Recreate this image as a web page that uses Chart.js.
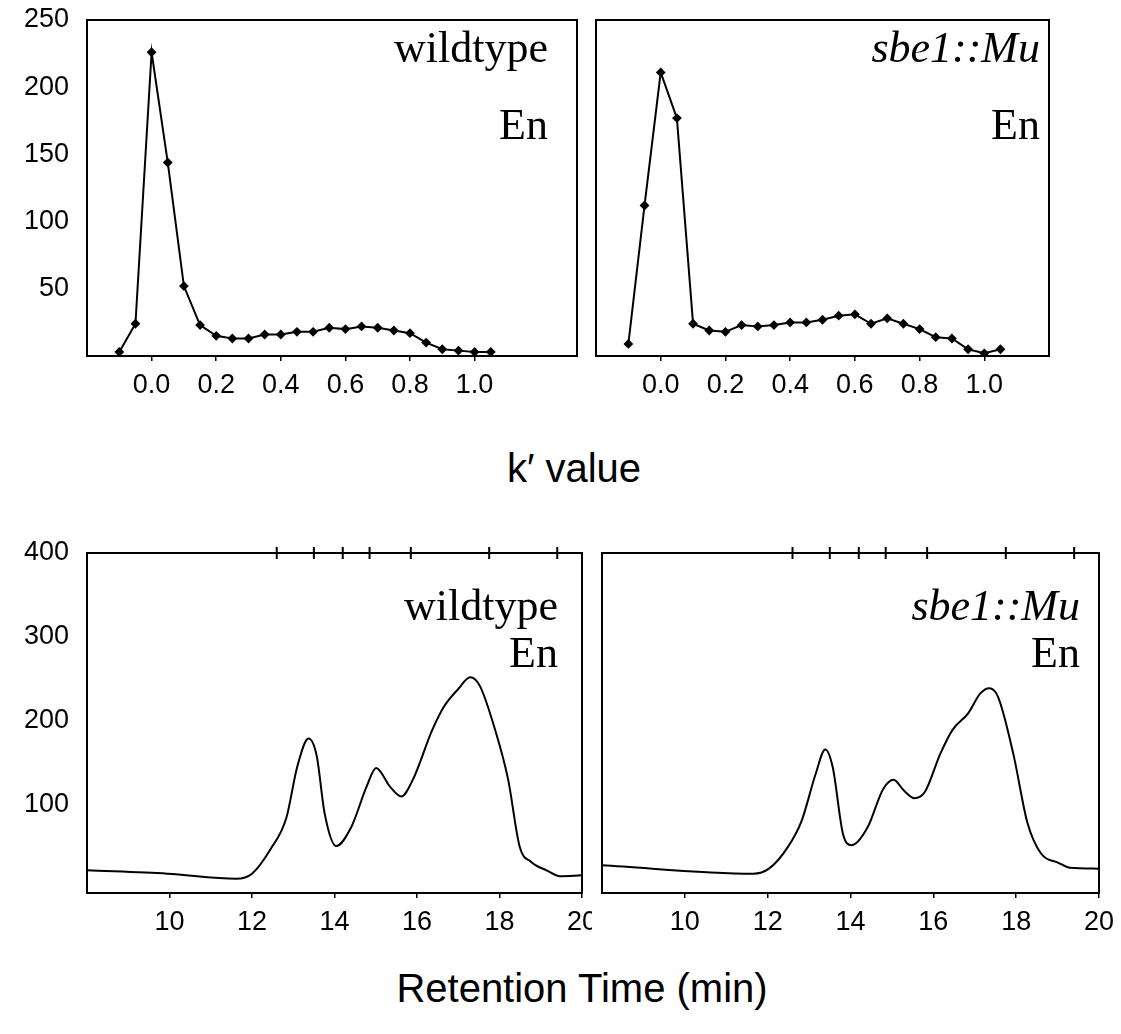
<!DOCTYPE html>
<html>
<head>
<meta charset="utf-8">
<script src="https://cdn.jsdelivr.net/npm/chart.js@4.4.1/dist/chart.umd.min.js"></script>
<style>
  body { margin: 0; background: #fff; }
  #page { position: relative; width: 1121px; height: 1034px; overflow: hidden; }
  canvas { position: absolute; }
  .axis-title {
    position: absolute; font-family: "Liberation Sans", Arial, sans-serif;
    font-size: 40px; color: #000; white-space: nowrap; transform: translate(-50%, -50%);
  }
</style>
</head>
<body>
<div id="page">
  <canvas id="k-wt" width="585" height="410" style="left:0;top:0"></canvas>
  <canvas id="k-mu" width="536" height="410" style="left:585px;top:0"></canvas>
  <canvas id="rt-wt" width="592" height="440" style="left:0;top:520px"></canvas>
  <canvas id="rt-mu" width="529" height="440" style="left:592px;top:520px"></canvas>
  <div class="axis-title" style="left:574px;top:468px">k′ value</div>
  <div class="axis-title" style="left:582px;top:988px">Retention Time (min)</div>
</div>
<script>
// k' 분포 (상단)
const kValues = [-0.1, -0.05, 0.0, 0.05, 0.1, 0.15, 0.2, 0.25, 0.3, 0.35, 0.4, 0.45,
                 0.5, 0.55, 0.6, 0.65, 0.7, 0.75, 0.8, 0.85, 0.9, 0.95, 1.0, 1.05];
const kWildtype = [3, 24, 226, 144, 52, 23, 15, 13, 13, 16, 16, 18,
                   18, 21, 20, 22, 21, 19, 17, 10, 5, 4, 3, 3];
const kMutant = [9, 112, 211, 177, 24, 19, 18, 23, 22, 23, 25, 25,
                 27, 30, 31, 24, 28, 24, 20, 14, 13, 5, 2, 5];
const kTicks = [0.0, 0.2, 0.4, 0.6, 0.8, 1.0];
const kCountTicks = [50, 100, 150, 200, 250];

// 크로마토그램 (하단)
const wtTime = [8.0, 9.95, 11.62, 12.0, 12.46, 12.83, 13.1, 13.37, 13.57, 13.76, 14.04, 14.41, 14.78, 15.01,
                15.34, 15.62, 15.9, 16.36, 16.64, 17.0, 17.29, 17.52, 17.89, 18.21, 18.49, 18.77, 19.14, 19.47, 19.98];
const wtSignal = [22, 18, 12, 18, 48, 84, 146, 179, 158, 90, 51, 74, 122, 144,
                  122, 110, 130, 188, 216, 238, 252, 242, 190, 130, 50, 32, 22, 15, 16];
const muTime = [8.0, 11.65, 12.03, 12.49, 12.82, 13.16, 13.39, 13.57, 13.82, 14.03, 14.41, 14.79, 15.04, 15.29,
                15.54, 15.79, 16.17, 16.46, 16.84, 17.14, 17.35, 17.56, 17.93, 18.27, 18.6, 19.02, 19.3, 19.98];
const muSignal = [28, 18, 24, 50, 81, 137, 166, 145, 65, 52, 73, 119, 130, 117,
                  108, 115, 161, 189, 209, 233, 239, 229, 161, 79, 42, 31, 25, 24];
const standardTimes = [12.6, 13.5, 14.2, 14.85, 15.85, 17.75, 19.4];
const timeTicks = [10, 12, 14, 16, 18, 20];
const signalTicks = [100, 200, 300, 400];

const tickFont = { family: '"Liberation Sans", Arial, sans-serif', size: 27 };

// 플롯 영역 테두리
const framePlugin = {
    id: 'frame',
    afterDraw(chart) {
        const { ctx, chartArea: a } = chart;
        ctx.save();
        ctx.strokeStyle = '#000';
        ctx.lineWidth = 2;
        ctx.strokeRect(a.left, a.top, a.right - a.left, a.bottom - a.top);
        ctx.restore();
    }
};

// 우측 상단 샘플 이름
const panelTextPlugin = {
    id: 'panelText',
    afterDraw(chart, args, opts) {
        const { ctx, chartArea: a } = chart;
        ctx.save();
        ctx.fillStyle = '#000';
        ctx.textAlign = 'right';
        ctx.textBaseline = 'alphabetic';
        opts.lines.forEach(line => {
            ctx.font = (line.italic ? 'italic ' : '') + opts.size + 'px "Liberation Serif", "Times New Roman", serif';
            ctx.fillText(line.text, a.right - opts.inset, a.top + line.baseline);
        });
        ctx.restore();
    }
};

const fixTicks = values => scale => { scale.ticks = values.map(v => ({ value: v })); };
const fixSize = (key, size) => scale => {
    scale[key] = size;
    scale.paddingLeft = scale.paddingRight = scale.paddingTop = scale.paddingBottom = 0;
};

function xAxis(min, max, ticks, fmt, height) {
    return {
        type: 'linear', min, max,
        afterBuildTicks: fixTicks(ticks),
        afterFit: fixSize('height', height),
        ticks: { font: tickFont, color: '#000', padding: 8, maxRotation: 0, autoSkip: false, callback: fmt },
        grid: { drawOnChartArea: false, color: '#000', lineWidth: 1.5, tickLength: 5 },
        border: { display: false }
    };
}

// 라벨이 없는 패널은 축 폭을 0으로 둔다
function yAxis(min, max, ticks, showLabels) {
    return {
        type: 'linear', min, max,
        afterBuildTicks: fixTicks(ticks),
        afterFit: fixSize('width', showLabels ? 87 : 0),
        ticks: { display: showLabels, font: tickFont, color: '#000', padding: 10 },
        grid: { display: false },
        border: { display: false }
    };
}

function makePanel(id, datasets, scales, padding, labels) {
    return new Chart(document.getElementById(id), {
        type: 'scatter',
        data: { datasets },
        options: {
            responsive: false,
            animation: false,
            layout: { padding },
            scales,
            plugins: {
                legend: { display: false },
                tooltip: { enabled: false },
                panelText: labels
            }
        },
        plugins: [framePlugin, panelTextPlugin]
    });
}

const kSeries = values => ({
    data: kValues.map((k, i) => ({ x: k, y: values[i] })),
    showLine: true,
    borderColor: '#000',
    backgroundColor: '#000',
    borderWidth: 2,
    pointStyle: 'rectRot',
    pointRadius: 3.5,
    tension: 0
});

const rtSeries = (times, values) => ({
    data: times.map((t, i) => ({ x: t, y: values[i] })),
    showLine: true,
    borderColor: '#000',
    borderWidth: 2,
    pointRadius: 0,
    cubicInterpolationMode: 'monotone'
});

// 표준물질 용출 위치: 상단 테두리 위 눈금
const standardMarks = {
    data: standardTimes.map(t => ({ x: t, y: 400 })),
    pointStyle: 'line',
    rotation: 90,
    pointRadius: 6,
    borderColor: '#000',
    borderWidth: 2,
    clip: false
};

const kFmt = v => v.toFixed(1);
const wtText = { size: 44, inset: 29, lines: [{ text: 'wildtype', baseline: 42 }, { text: 'En', baseline: 119 }] };
const muText = { size: 44, inset: 9, lines: [{ text: 'sbe1::Mu', italic: true, baseline: 42 }, { text: 'En', baseline: 119 }] };

makePanel('k-wt', [kSeries(kWildtype)], {
    x: xAxis(-0.2, 1.317, kTicks, kFmt, 54),
    y: yAxis(0, 250, kCountTicks, true)
}, { left: 0, top: 20, right: 8, bottom: 0 }, wtText);

makePanel('k-mu', [kSeries(kMutant)], {
    x: xAxis(-0.2, 1.2, kTicks, kFmt, 54),
    y: yAxis(0, 250, kCountTicks, false)
}, { left: 11, top: 20, right: 72, bottom: 0 }, muText);

makePanel('rt-wt', [rtSeries(wtTime, wtSignal), standardMarks], {
    x: xAxis(8, 20, timeTicks, v => String(v), 67),
    y: yAxis(-5, 400, signalTicks, true)
}, { left: 0, top: 33, right: 10, bottom: 0 },
   { size: 44, inset: 24, lines: [{ text: 'wildtype', baseline: 67 }, { text: 'En', baseline: 114 }] });

makePanel('rt-mu', [rtSeries(muTime, muSignal), standardMarks], {
    x: xAxis(8, 20, timeTicks, v => String(v), 67),
    y: yAxis(-5, 400, signalTicks, false)
}, { left: 10, top: 33, right: 22, bottom: 0 },
   { size: 44, inset: 19, lines: [{ text: 'sbe1::Mu', italic: true, baseline: 67 }, { text: 'En', baseline: 114 }] });
</script>
</body>
</html>
